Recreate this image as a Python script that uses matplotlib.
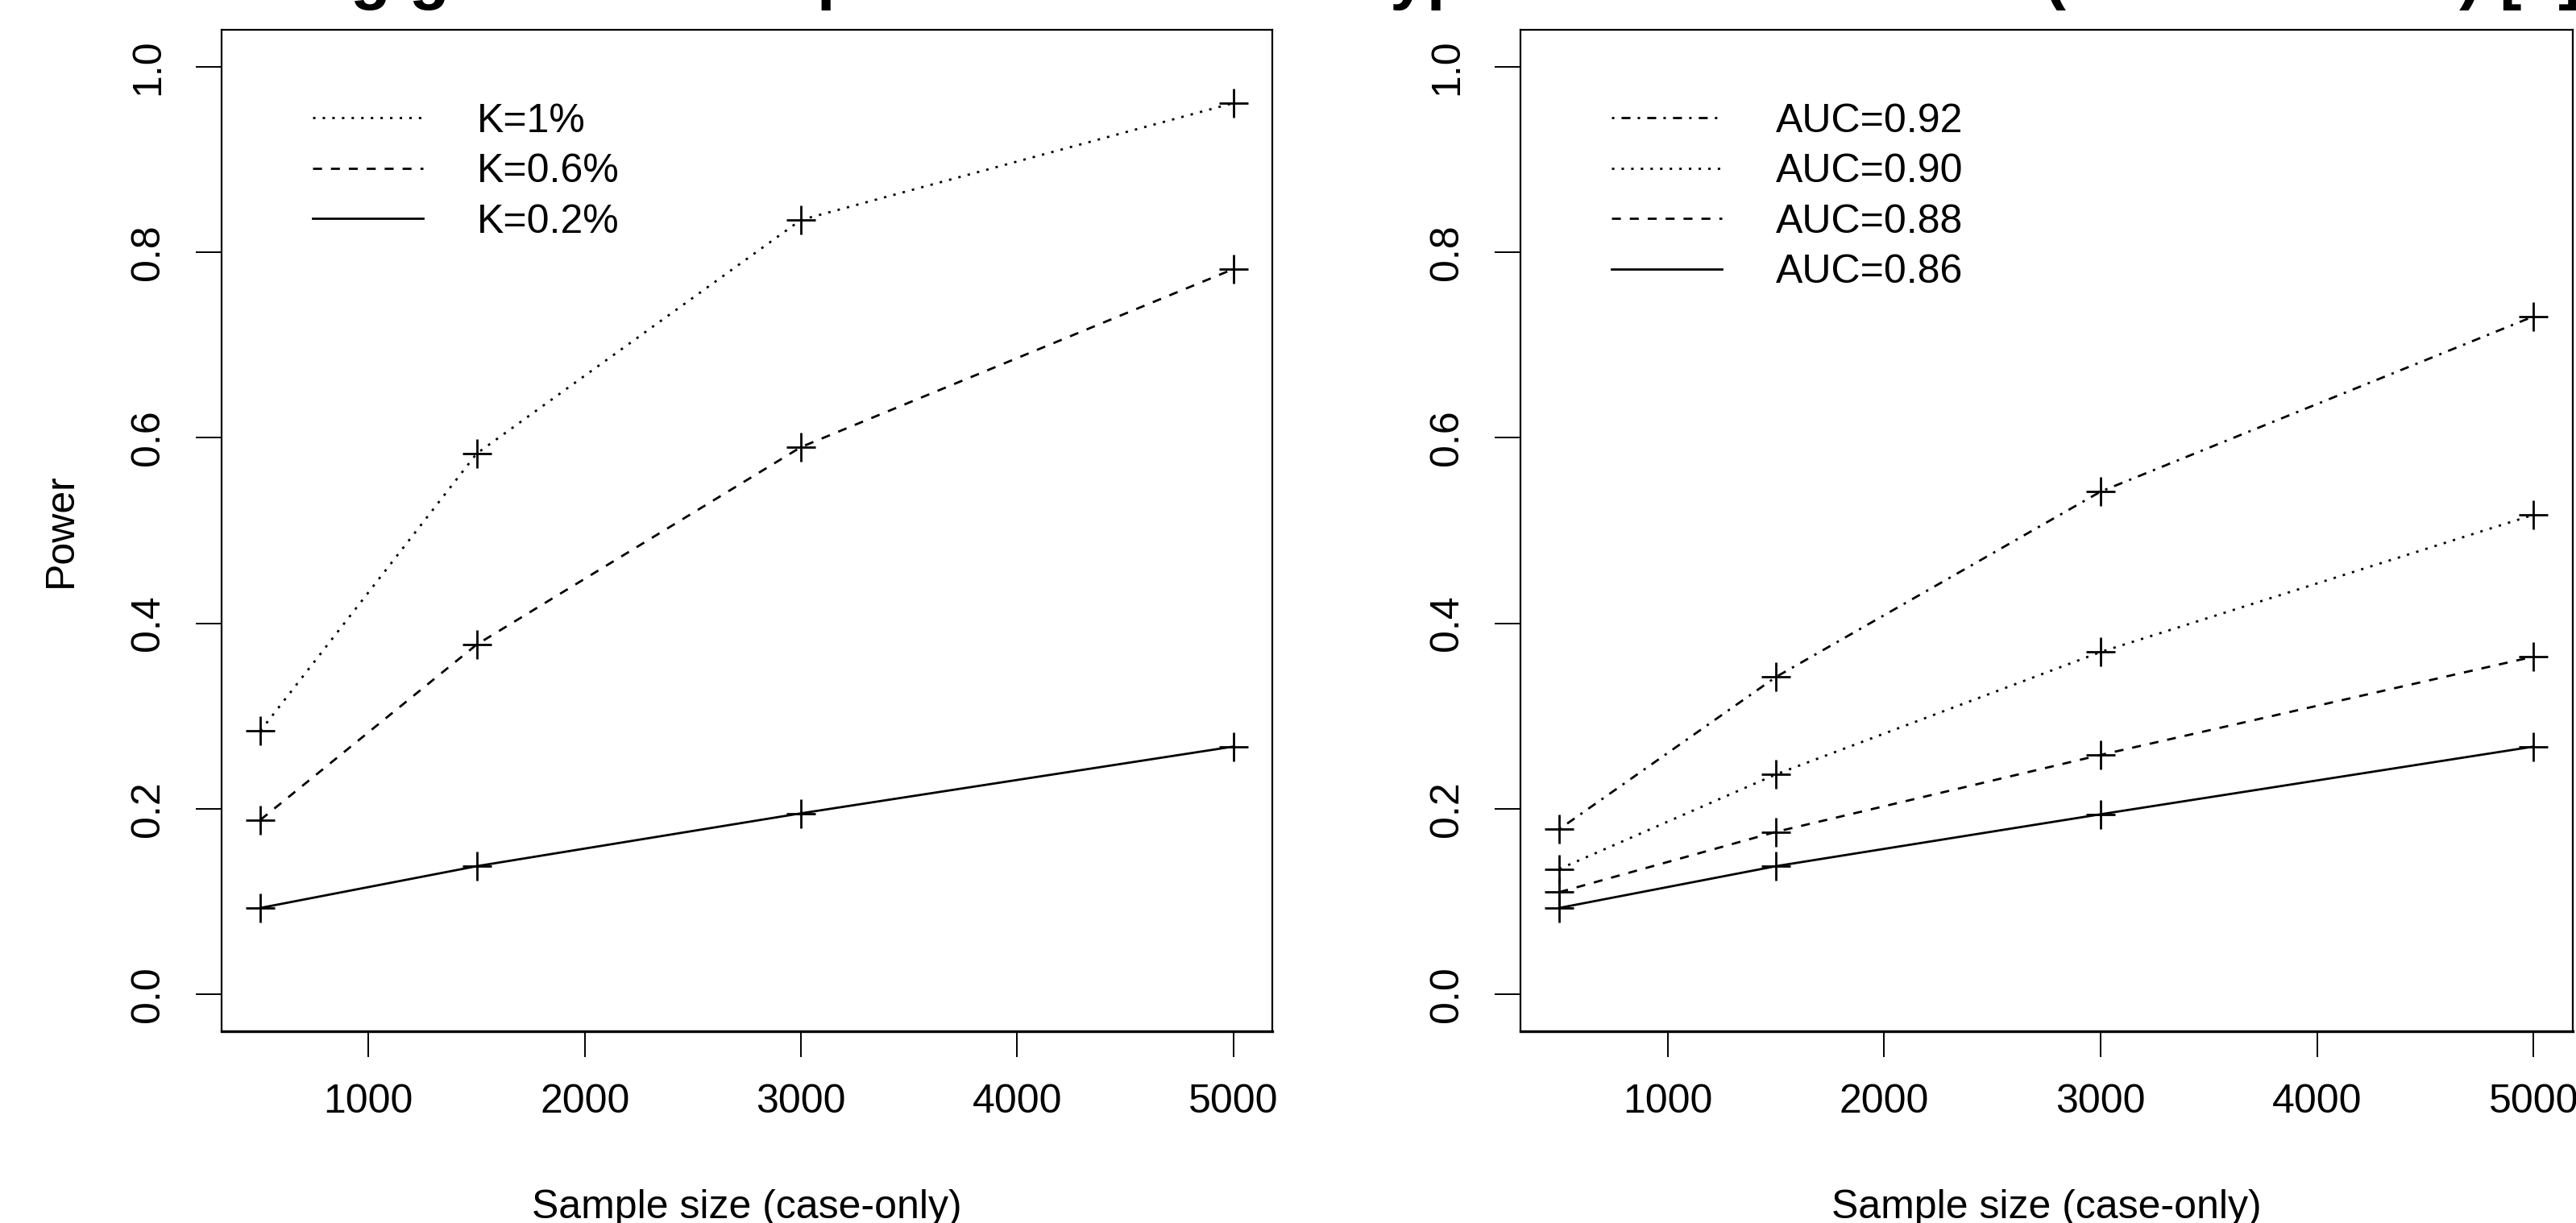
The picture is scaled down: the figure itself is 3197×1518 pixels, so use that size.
import matplotlib
matplotlib.use('Agg')
import matplotlib.pyplot as plt
from matplotlib.lines import Line2D

plt.rcParams['font.family'] = ['Liberation Sans', 'DejaVu Sans']

# data
sample_sizes = [500, 1500, 3000, 5000]

k_labels = ["K=1%", "K=0.6%", "K=0.2%"]
power_k1 = [0.284, 0.583, 0.835, 0.961]
power_k06 = [0.188, 0.377, 0.590, 0.782]
power_k02 = [0.093, 0.138, 0.195, 0.267]

auc_labels = ["AUC=0.92", "AUC=0.90", "AUC=0.88", "AUC=0.86"]
power_auc92 = [0.178, 0.342, 0.542, 0.731]
power_auc90 = [0.135, 0.237, 0.369, 0.517]
power_auc88 = [0.110, 0.175, 0.258, 0.364]
power_auc86 = [0.093, 0.138, 0.194, 0.267]

x_ticks = [1000, 2000, 3000, 4000, 5000]
y_ticks = [0.0, 0.2, 0.4, 0.6, 0.8, 1.0]

# R-like line types
SOLID = '-'
DASHED = (0, (4, 4))
DOTTED = (0, (1.1, 3.2))
DOTDASH = (0, (1.1, 3.2, 4, 3.2))

FS = 36


def draw_panel(ax, series, labels, styles, ylabel=None):
    for values, ls in zip(series, styles):
        ax.plot(sample_sizes, values, color='black', lw=2, ls=ls,
                marker='+', ms=26, mew=2)

    ax.set_xlim(320, 5180)
    ax.set_ylim(-0.04, 1.04)
    ax.set_xticks(x_ticks, labels=[str(t) for t in x_ticks])
    ax.set_yticks(y_ticks, labels=["{:.1f}".format(t) for t in y_ticks],
                  rotation=90, va='center')
    ax.tick_params(axis='x', length=23, width=1.4, pad=24, labelsize=FS)
    ax.tick_params(axis='y', length=23, width=1.4, pad=26, labelsize=FS)
    for spine in ax.spines.values():
        spine.set_linewidth(1.6)
    ax.spines['bottom'].set_linewidth(2.4)

    ax.set_xlabel("Sample size (case-only)", fontsize=FS, va='top')
    ax.xaxis.set_label_coords(0.5, -0.158)
    if ylabel:
        ax.set_ylabel(ylabel, fontsize=FS)
        ax.yaxis.set_label_coords(-0.135, 0.5)

    handles = [Line2D([], [], color='black', lw=2, ls=ls) for ls in styles]
    ax.legend(handles, labels, loc='upper left', bbox_to_anchor=(0.087, 0.927),
              frameon=False, fontsize=FS, handlelength=2.74, handletextpad=1.32,
              labelspacing=0.33, borderpad=0, borderaxespad=0)


fig = plt.figure(figsize=(31.97, 15.18), dpi=100)
ax1 = fig.add_axes([0.0860, 0.1568, 0.4079, 0.8188])
ax2 = fig.add_axes([0.5902, 0.1568, 0.4085, 0.8188])

draw_panel(ax1, [power_k1, power_k06, power_k02], k_labels,
           [DOTTED, DASHED, SOLID], ylabel="Power")
draw_panel(ax2, [power_auc92, power_auc90, power_auc88, power_auc86], auc_labels,
           [DOTDASH, DOTTED, DASHED, SOLID])

# title sits above the canvas in the reference, only its descenders show
fig.text(0.0347, 1.0026,
         "Detecting genetic risk: power under the hypothesis test at 5% (case-control) [1]",
         ha='left', va='baseline', fontsize=59, fontweight='bold')

fig.savefig("out.png", dpi=100)
